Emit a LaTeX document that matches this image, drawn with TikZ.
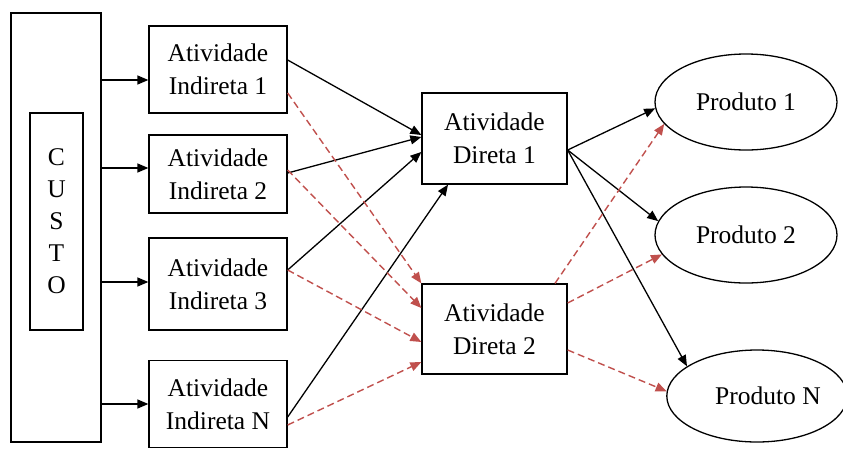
\documentclass[tikz,border=0pt]{standalone}
\usepackage{fontspec}
\setmainfont{Liberation Serif}
\usetikzlibrary{shapes.geometric,arrows.meta}
\definecolor{dashred}{RGB}{192,80,77}
\begin{document}
\begin{tikzpicture}[x=1pt,y=-1pt,
  box/.style={draw,line width=1.3pt,inner sep=0pt,align=center,
    font=\fontsize{25.5}{33}\selectfont},
  prod/.style={draw,ellipse,line width=1.3pt,inner sep=0pt,
    minimum width=182pt,minimum height=96pt,
    font=\fontsize{25.5}{33}\selectfont},
  solidarrow/.style={line width=1.3pt,-{Triangle[length=11pt,width=9pt]}},
  dasharrow/.style={line width=1.4pt,dashed,dash pattern=on 7pt off 4pt,
    color=dashred,-{Triangle[length=11pt,width=9pt]}}]
\useasboundingbox (0,0) rectangle (843,448);

% cost block
\node[box,minimum width=90pt,minimum height=429pt] (custo) at (56,227.5) {};
\node[box,minimum width=53pt,minimum height=217pt,
  font=\fontsize{25.5}{32}\selectfont] (letras) at (56.5,221.5)
  {C\\U\\S\\T\\O};

% indirect activities
\node[box,minimum width=138pt,minimum height=87pt] (ind1) at (218,69.5) {Atividade\\Indireta 1};
\node[box,minimum width=138pt,minimum height=78pt] (ind2) at (218,174) {Atividade\\Indireta 2};
\node[box,minimum width=138pt,minimum height=92pt] (ind3) at (218,284) {Atividade\\Indireta 3};
\node[box,minimum width=138pt,minimum height=87pt] (indN) at (218,404) {Atividade\\Indireta N};

% direct activities
\node[box,minimum width=145pt,minimum height=91pt] (d1) at (494.5,138.5) {Atividade\\Direta 1};
\node[box,minimum width=145pt,minimum height=90pt] (d2) at (494.5,329) {Atividade\\Direta 2};

% products
\node[prod] (p1) at (746,102) {Produto 1};
\node[prod] (p2) at (746,235) {Produto 2};
\node[prod,minimum width=178pt,minimum height=92pt] (pN) at (757,396) {\hspace*{22pt}Produto N};

% cost to indirect activities
\draw[solidarrow] (custo.east |- 0,80) -- (ind1.west |- 0,80);
\draw[solidarrow] (custo.east |- 0,168) -- (ind2.west |- 0,168);
\draw[solidarrow] (custo.east |- 0,282) -- (ind3.west |- 0,282);
\draw[solidarrow] (custo.east |- 0,404) -- (indN.west |- 0,404);

% indirect to direct 1
\draw[solidarrow] (ind1.east |- 0,60) -- (d1.west |- 0,135);
\draw[solidarrow] (ind2.east |- 0,173) -- (d1.west |- 0,137);
\draw[solidarrow] (ind3.east |- 0,270) -- (d1.west |- 0,152);
\draw[solidarrow] (indN.east |- 0,417) -- (448,0 |- d1.south);

% indirect to direct 2
\draw[dasharrow] (ind1.east |- 0,93) -- (d2.north west);
\draw[dasharrow] (ind2.east |- 0,170) -- (d2.west |- 0,308);
\draw[dasharrow] (ind3.east |- 0,270) -- (d2.west |- 0,342);
\draw[dasharrow] (indN.east |- 0,425) -- (d2.west |- 0,362);

% direct activities to products
\draw[solidarrow] (d1.east |- 0,150) -- (p1.184);
\draw[solidarrow] (d1.east |- 0,150) -- (p2.171);
\draw[solidarrow] (d1.east |- 0,150) -- (pN.157);
\draw[dasharrow] (555,0 |- d2.north) -- (p1.195);
\draw[dasharrow] (d2.east |- 0,303) -- (p2.193);
\draw[dasharrow] (d2.east |- 0,350) -- (pN.177);
\end{tikzpicture}
\end{document}
